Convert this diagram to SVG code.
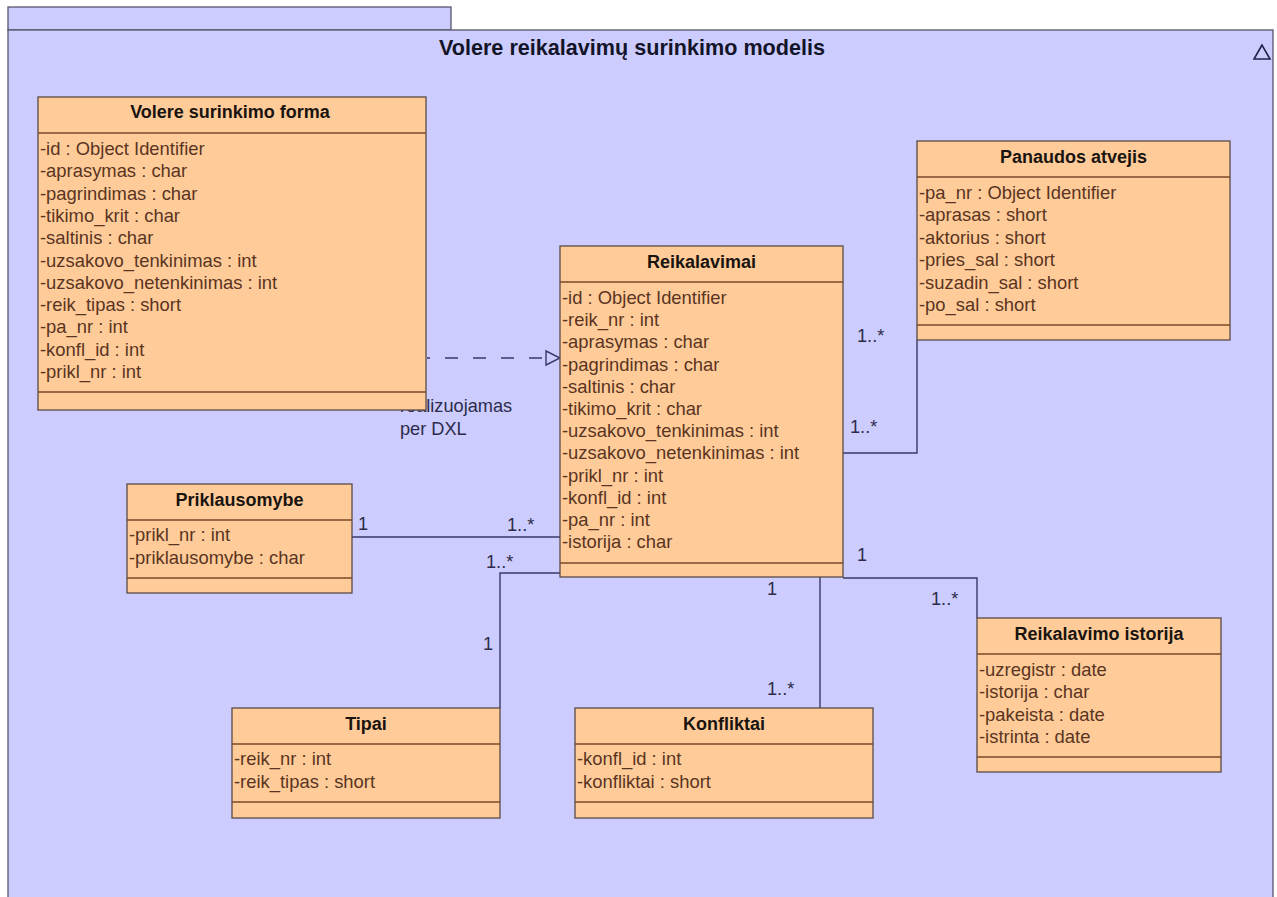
<svg xmlns="http://www.w3.org/2000/svg" width="1277" height="897" viewBox="0 0 1277 897">
  <style>
    .pkg { fill: #CCCCFF; stroke: #55556a; stroke-width: 1.3; }
    .box { fill: #FFCC99; stroke: #5a4a44; stroke-width: 1.3; }
    .div { stroke: #7a4a28; stroke-width: 1.3; }
    .ttl { font-family: "Liberation Sans", Arial, sans-serif; font-size: 18px; font-weight: bold; fill: #1a1410; text-anchor: middle; }
    .att { font-family: "Liberation Sans", Arial, sans-serif; font-size: 18.4px; fill: #5a3422; }
    .lbl { font-family: "Liberation Sans", Arial, sans-serif; font-size: 18.2px; fill: #2c2c4a; }
    .pkgt { font-family: "Liberation Sans", Arial, sans-serif; font-size: 21.6px; font-weight: bold; fill: #141428; text-anchor: middle; }
    .con { fill: none; stroke: #3a3a66; stroke-width: 1.4; }
  </style>

  <rect width="1277" height="897" fill="#FFFFFF"/>

  <!-- package frame -->
  <g id="package">
    <rect class="pkg" x="8" y="7" width="443" height="23"/>
    <rect class="pkg" x="8" y="30" width="1265" height="880"/>
    <text class="pkgt" x="632" y="55">Volere reikalavimų surinkimo modelis</text>
    <polygon points="1262,45 1254,59 1270,59" fill="none" stroke="#22224a" stroke-width="1.6"/>
  </g>

  <!-- connectors -->
  <g id="connectors">
    <line class="con" x1="427" y1="358" x2="546" y2="358" stroke-dasharray="13 15" stroke-dashoffset="10"/>
    <polygon points="546,351 560,358 546,365" fill="#CCCCFF" stroke="#3a3a66" stroke-width="1.4"/>
    <text class="lbl" x="400" y="412">realizuojamas</text>
    <text class="lbl" x="400" y="435">per DXL</text>

    <polyline class="con" points="843,453 917,453 917,340"/>
    <text class="lbl" x="857" y="342">1..*</text>
    <text class="lbl" x="850" y="433">1..*</text>

    <line class="con" x1="352" y1="537" x2="560" y2="537"/>
    <text class="lbl" x="358" y="530">1</text>
    <text class="lbl" x="507" y="531">1..*</text>

    <polyline class="con" points="560,573 500,573 500,708"/>
    <text class="lbl" x="486" y="568">1..*</text>
    <text class="lbl" x="483" y="650">1</text>

    <line class="con" x1="820" y1="577" x2="820" y2="708"/>
    <text class="lbl" x="767" y="595">1</text>
    <text class="lbl" x="767" y="695">1..*</text>

    <polyline class="con" points="843,578 977,578 977,618"/>
    <text class="lbl" x="857" y="561">1</text>
    <text class="lbl" x="931" y="605">1..*</text>
  </g>

  <!-- Volere surinkimo forma -->
  <g id="volere-surinkimo-forma">
    <rect class="box" x="38" y="97" width="388" height="313"/>
    <line class="div" x1="38" y1="133" x2="426" y2="133"/>
    <line class="div" x1="38" y1="392" x2="426" y2="392"/>
    <text class="ttl" x="230" y="118">Volere surinkimo forma</text>
    <text class="att" x="40" y="155">-id : Object Identifier</text>
    <text class="att" x="40" y="177.3">-aprasymas : char</text>
    <text class="att" x="40" y="199.6">-pagrindimas : char</text>
    <text class="att" x="40" y="221.9">-tikimo_krit : char</text>
    <text class="att" x="40" y="244.2">-saltinis : char</text>
    <text class="att" x="40" y="266.5">-uzsakovo_tenkinimas : int</text>
    <text class="att" x="40" y="288.8">-uzsakovo_netenkinimas : int</text>
    <text class="att" x="40" y="311.1">-reik_tipas : short</text>
    <text class="att" x="40" y="333.4">-pa_nr : int</text>
    <text class="att" x="40" y="355.7">-konfl_id : int</text>
    <text class="att" x="40" y="378">-prikl_nr : int</text>
  </g>

  <!-- Reikalavimai -->
  <g id="reikalavimai">
    <rect class="box" x="560" y="246" width="283" height="331"/>
    <line class="div" x1="560" y1="282" x2="843" y2="282"/>
    <line class="div" x1="560" y1="563" x2="843" y2="563"/>
    <text class="ttl" x="701.5" y="268">Reikalavimai</text>
    <text class="att" x="562" y="304">-id : Object Identifier</text>
    <text class="att" x="562" y="326.2">-reik_nr : int</text>
    <text class="att" x="562" y="348.4">-aprasymas : char</text>
    <text class="att" x="562" y="370.6">-pagrindimas : char</text>
    <text class="att" x="562" y="392.8">-saltinis : char</text>
    <text class="att" x="562" y="415">-tikimo_krit : char</text>
    <text class="att" x="562" y="437.2">-uzsakovo_tenkinimas : int</text>
    <text class="att" x="562" y="459.4">-uzsakovo_netenkinimas : int</text>
    <text class="att" x="562" y="481.6">-prikl_nr : int</text>
    <text class="att" x="562" y="503.8">-konfl_id : int</text>
    <text class="att" x="562" y="526">-pa_nr : int</text>
    <text class="att" x="562" y="548.2">-istorija : char</text>
  </g>

  <!-- Panaudos atvejis -->
  <g id="panaudos-atvejis">
    <rect class="box" x="917" y="141" width="313" height="199"/>
    <line class="div" x1="917" y1="177" x2="1230" y2="177"/>
    <line class="div" x1="917" y1="325" x2="1230" y2="325"/>
    <text class="ttl" x="1073.5" y="163">Panaudos atvejis</text>
    <text class="att" x="919" y="199">-pa_nr : Object Identifier</text>
    <text class="att" x="919" y="221.4">-aprasas : short</text>
    <text class="att" x="919" y="243.8">-aktorius : short</text>
    <text class="att" x="919" y="266.2">-pries_sal : short</text>
    <text class="att" x="919" y="288.6">-suzadin_sal : short</text>
    <text class="att" x="919" y="311">-po_sal : short</text>
  </g>

  <!-- Priklausomybe -->
  <g id="priklausomybe">
    <rect class="box" x="127" y="484" width="225" height="109"/>
    <line class="div" x1="127" y1="520" x2="352" y2="520"/>
    <line class="div" x1="127" y1="578" x2="352" y2="578"/>
    <text class="ttl" x="239.5" y="506">Priklausomybe</text>
    <text class="att" x="129" y="541">-prikl_nr : int</text>
    <text class="att" x="129" y="563.5">-priklausomybe : char</text>
  </g>

  <!-- Tipai -->
  <g id="tipai">
    <rect class="box" x="232" y="708" width="268" height="110"/>
    <line class="div" x1="232" y1="744" x2="500" y2="744"/>
    <line class="div" x1="232" y1="802" x2="500" y2="802"/>
    <text class="ttl" x="366" y="730">Tipai</text>
    <text class="att" x="234" y="765">-reik_nr : int</text>
    <text class="att" x="234" y="787.5">-reik_tipas : short</text>
  </g>

  <!-- Konfliktai -->
  <g id="konfliktai">
    <rect class="box" x="575" y="708" width="298" height="110"/>
    <line class="div" x1="575" y1="744" x2="873" y2="744"/>
    <line class="div" x1="575" y1="802" x2="873" y2="802"/>
    <text class="ttl" x="724" y="730">Konfliktai</text>
    <text class="att" x="577" y="765">-konfl_id : int</text>
    <text class="att" x="577" y="787.5">-konfliktai : short</text>
  </g>

  <!-- Reikalavimo istorija -->
  <g id="reikalavimo-istorija">
    <rect class="box" x="977" y="618" width="244" height="154"/>
    <line class="div" x1="977" y1="654" x2="1221" y2="654"/>
    <line class="div" x1="977" y1="757" x2="1221" y2="757"/>
    <text class="ttl" x="1099" y="640">Reikalavimo istorija</text>
    <text class="att" x="979" y="676">-uzregistr : date</text>
    <text class="att" x="979" y="698.4">-istorija : char</text>
    <text class="att" x="979" y="720.8">-pakeista : date</text>
    <text class="att" x="979" y="743.2">-istrinta : date</text>
  </g>
</svg>
